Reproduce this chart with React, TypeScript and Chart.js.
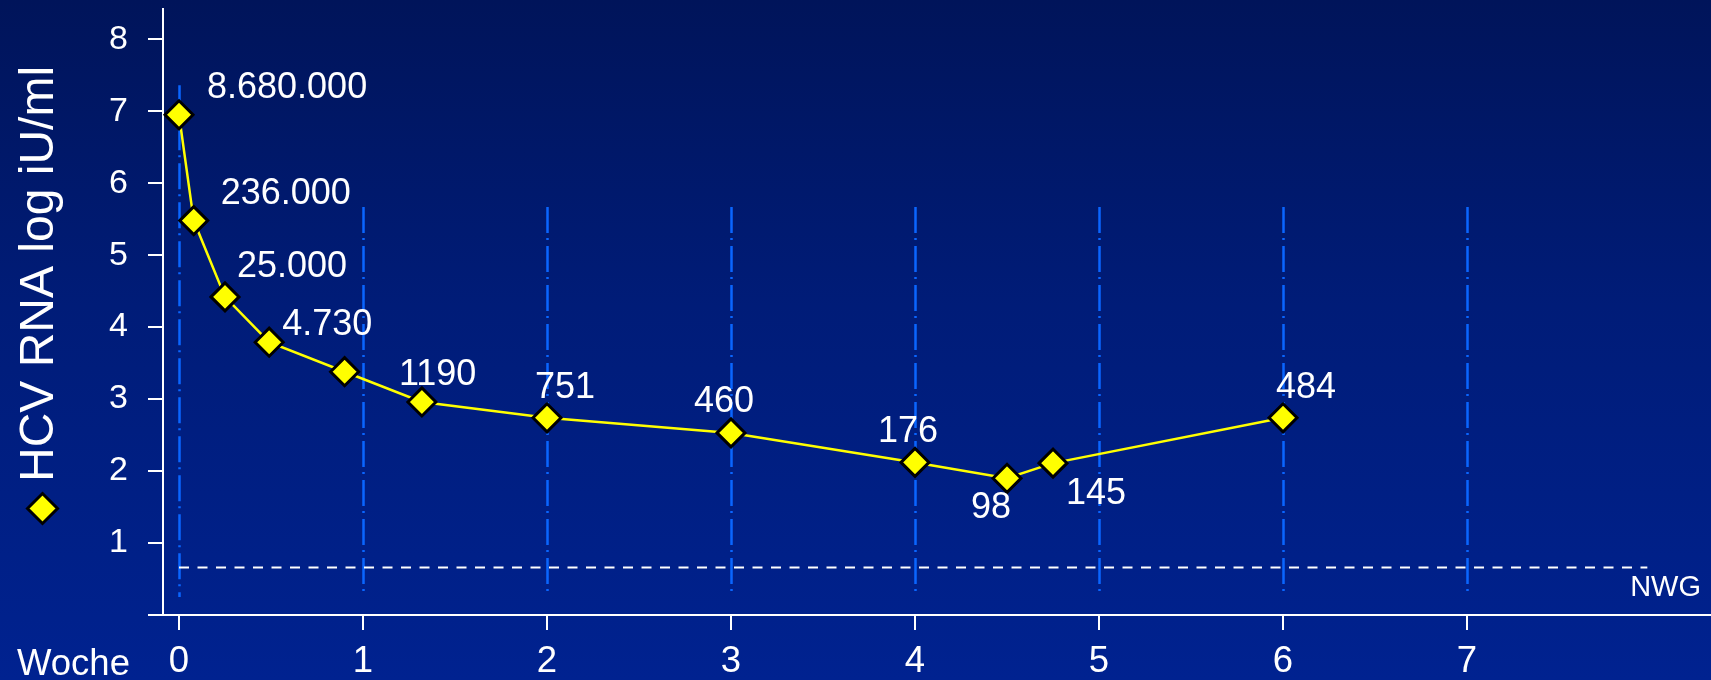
import React, { useEffect, useRef } from 'react';
import { Chart, registerables } from 'chart.js';

Chart.register(...registerables);

// ---- data ----
const weeks = [0, 0.08, 0.25, 0.49, 0.9, 1.32, 2, 3, 4, 4.5, 4.75, 6];
const logValues = [6.95, 5.48, 4.42, 3.79, 3.38, 2.96, 2.74, 2.53, 2.12, 1.9, 2.11, 2.74];
const valueLabels = ['8.680.000', '236.000', '25.000', '4.730', '', '1190', '751', '460', '176', '98', '145', '484'];
const xTicks = [0, 1, 2, 3, 4, 5, 6, 7];
const yTicks = [0, 1, 2, 3, 4, 5, 6, 7, 8];
const gridWeeks = [0, 1, 2, 3, 4, 5, 6, 7];
const gridTops = [7.36, 5.67, 5.67, 5.67, 5.67, 5.67, 5.67, 5.67];
const gridBottom = 0.25;
const nwgValue = 0.67;
const nwgRange = [0, 7.98];
const seriesName = 'HCV RNA log iU/ml';
const xAxisName = 'Woche';
const nwgName = 'NWG';

const FONT = '"Liberation Sans", Arial, Helvetica, sans-serif';

// label placement (layout only): [dx, dy] from point to text left / middle
const labelOffsets: [number, number][] = [
  [28, -27], [27, -27], [12, -30], [13, -17], [0, 0], [-23, -27],
  [-12, -30], [-37, -31], [-37, -30], [-36, 30], [13, 31], [-7, -30],
];

function drawDiamond(ctx: CanvasRenderingContext2D, x: number, y: number, r: number) {
  ctx.beginPath();
  ctx.moveTo(x - r, y);
  ctx.lineTo(x, y - r);
  ctx.lineTo(x + r, y);
  ctx.lineTo(x, y + r);
  ctx.closePath();
  ctx.fillStyle = '#ffff00';
  ctx.fill();
  ctx.lineWidth = 3;
  ctx.strokeStyle = '#000000';
  ctx.stroke();
}

const decorPlugin = {
  id: 'decor',
  beforeDatasetsDraw(chart: any) {
    const ctx = chart.ctx as CanvasRenderingContext2D;
    const xs = chart.scales.x;
    const ys = chart.scales.y;
    ctx.save();
    // blue dash-dot verticals
    ctx.strokeStyle = '#0a66ff';
    ctx.lineWidth = 2.5;
    ctx.setLineDash([26, 5, 2, 6]);
    gridWeeks.forEach((w, i) => {
      const px = Math.round(xs.getPixelForValue(w)) + 0.5;
      ctx.beginPath();
      ctx.moveTo(px, ys.getPixelForValue(gridTops[i]));
      ctx.lineTo(px, ys.getPixelForValue(gridBottom));
      ctx.stroke();
    });
    // white dashed limit line
    ctx.strokeStyle = '#ffffff';
    ctx.lineWidth = 2;
    ctx.setLineDash([10, 8.5]);
    const ny = Math.round(ys.getPixelForValue(nwgValue)) + 0.5;
    ctx.beginPath();
    ctx.moveTo(xs.getPixelForValue(nwgRange[0]), ny);
    ctx.lineTo(xs.getPixelForValue(nwgRange[1]), ny);
    ctx.stroke();
    ctx.setLineDash([]);
    ctx.fillStyle = '#ffffff';
    ctx.font = `29px ${FONT}`;
    ctx.textAlign = 'right';
    ctx.textBaseline = 'middle';
    ctx.fillText(nwgName, chart.chartArea.right - 10, ny + 20);
    ctx.restore();
  },
  afterDatasetsDraw(chart: any) {
    const ctx = chart.ctx as CanvasRenderingContext2D;
    const meta = chart.getDatasetMeta(0);
    ctx.save();
    ctx.fillStyle = '#ffffff';
    ctx.font = `36px ${FONT}`;
    ctx.textAlign = 'left';
    ctx.textBaseline = 'middle';
    meta.data.forEach((pt: any, i: number) => {
      const t = valueLabels[i];
      if (!t) return;
      const [dx, dy] = labelOffsets[i];
      ctx.fillText(t, pt.x + dx, pt.y + dy);
    });
    // x axis name
    ctx.textBaseline = 'alphabetic';
    ctx.font = `36.5px ${FONT}`;
    ctx.fillText(xAxisName, 17, 675);
    // rotated series title (legend)
    ctx.save();
    ctx.translate(53, 482);
    ctx.rotate(-Math.PI / 2);
    ctx.font = `48px ${FONT}`;
    ctx.textAlign = 'left';
    ctx.textBaseline = 'alphabetic';
    ctx.fillText(seriesName, 0, 0);
    ctx.restore();
    drawDiamond(ctx, 42.5, 508.5, 15);
    ctx.restore();
  },
};

export default function App() {
  const ref = useRef<HTMLCanvasElement | null>(null);

  useEffect(() => {
    document.body.style.margin = '0';
    const canvas = ref.current;
    if (!canvas) return;
    const chart = new Chart(canvas, {
      type: 'scatter',
      data: {
        datasets: [
          {
            label: seriesName,
            data: weeks.map((w, i) => ({ x: w, y: logValues[i] })),
            showLine: true,
            borderColor: '#ffff00',
            borderWidth: 2.5,
            tension: 0,
            pointStyle: 'rectRot',
            pointRadius: 14,
            pointHoverRadius: 14,
            pointBackgroundColor: '#ffff00',
            pointBorderColor: '#000000',
            pointBorderWidth: 3,
            clip: false as any,
          },
        ],
      },
      options: {
        responsive: false,
        animation: false,
        events: [],
        layout: { autoPadding: false, padding: { top: 9, left: 0, right: 0, bottom: 0 } },
        plugins: {
          legend: { display: false },
          tooltip: { enabled: false },
          title: { display: false },
        },
        scales: {
          x: {
            type: 'linear',
            min: -0.087,
            max: 8.326,
            afterBuildTicks: (s: any) => {
              s.ticks = xTicks.map((v) => ({ value: v }));
            },
            afterFit: (s: any) => {
              s.height = 65;
              s.paddingLeft = 0;
              s.paddingRight = 0;
              s.paddingTop = 0;
              s.paddingBottom = 0;
            },
            grid: {
              drawOnChartArea: false,
              drawTicks: true,
              tickLength: 15,
              color: '#ffffff',
              lineWidth: 2,
            },
            border: { display: true, color: '#ffffff', width: 2 },
            ticks: {
              color: '#ffffff',
              font: { size: 36.5, family: FONT },
              padding: 10,
              autoSkip: false,
              maxRotation: 0,
              minRotation: 0,
            },
          },
          y: {
            type: 'linear',
            min: 0,
            max: 8.42,
            afterBuildTicks: (s: any) => {
              s.ticks = yTicks.map((v) => ({ value: v }));
            },
            afterFit: (s: any) => {
              s.width = 163;
              s.paddingLeft = 0;
              s.paddingRight = 0;
              s.paddingTop = 0;
              s.paddingBottom = 0;
            },
            grid: {
              drawOnChartArea: false,
              drawTicks: true,
              tickLength: 15,
              color: '#ffffff',
              lineWidth: 2,
            },
            border: { display: true, color: '#ffffff', width: 2 },
            ticks: {
              color: '#ffffff',
              font: { size: 34, family: FONT },
              padding: 20,
              autoSkip: false,
              callback: (v: any) => (v === 0 ? '' : String(v)),
            },
          },
        },
      },
      plugins: [decorPlugin],
    });
    return () => chart.destroy();
  }, []);

  return (
    <div
      style={{
        position: 'relative',
        width: 1711,
        height: 680,
        background: 'linear-gradient(to bottom, #00145a 0%, #001c78 45%, #002290 100%)',
      }}
    >
      <canvas ref={ref} width={1711} height={680} style={{ display: 'block' }} />
    </div>
  );
}
